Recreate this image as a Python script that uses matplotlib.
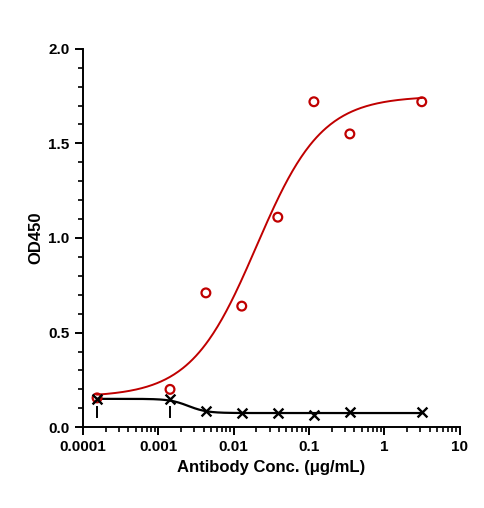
import numpy as np
import matplotlib
matplotlib.use("Agg")
import matplotlib.pyplot as plt

conc = [0.000154, 0.00143, 0.00428, 0.0128, 0.0385, 0.116, 0.348, 3.13]
od_sample = [0.155, 0.20, 0.71, 0.64, 1.11, 1.72, 1.55, 1.72]
od_ctrl = [0.15, 0.15, 0.085, 0.075, 0.075, 0.065, 0.08, 0.08]
ctrl_err = [0.05, 0.05, 0, 0, 0, 0, 0, 0]
# 4PL fit parameters (bottom, top, EC50, hill)
fit_sample = (0.16, 1.75, 0.020, 1.0)
fit_ctrl = (0.15, 0.075, 0.0025, 3.5)

def fourpl(x, b, t, ec, h):
    return b + (t - b) / (1 + (ec / x) ** h)

plt.rcParams['font.family'] = ['Liberation Sans', 'DejaVu Sans']
fig = plt.figure(figsize=(4.85, 5.08), dpi=100)
ax = fig.add_axes([0.171, 0.159, 0.777, 0.745])
xs = np.logspace(np.log10(conc[0]), np.log10(conc[-1]), 300)
ax.plot(xs, fourpl(xs, *fit_sample), color='#c00000', lw=1.4)
ax.plot(xs, fourpl(xs, *fit_ctrl), color='black', lw=1.6)
ax.scatter(conc, od_sample, s=40, facecolors='none', edgecolors='#c00000', linewidths=1.6, zorder=3)
ax.scatter(conc, od_ctrl, s=50, marker='x', color='black', linewidths=1.7, zorder=3)
for x, y, e in zip(conc, od_ctrl, ctrl_err):
    if e > 0:
        ax.plot([x, x], [y - e - 0.045, y - 0.045], color='black', lw=1.4)
ax.set_xscale('log')
ax.set_xlim(0.0001, 10)
ax.set_ylim(0, 2.0)
ax.set_xticks([0.0001, 0.001, 0.01, 0.1, 1, 10])
ax.set_xticklabels(['0.0001', '0.001', '0.01', '0.1', '1', '10'])
ax.set_yticks([0, 0.5, 1.0, 1.5, 2.0])
ax.set_yticklabels(['0.0', '0.5', '1.0', '1.5', '2.0'])
ax.yaxis.set_minor_locator(matplotlib.ticker.MultipleLocator(0.1))
for s in ['top', 'right']:
    ax.spines[s].set_visible(False)
for s in ['left', 'bottom']:
    ax.spines[s].set_linewidth(1.4)
ax.tick_params(which='major', direction='out', length=6, width=1.4, labelsize=11)
ax.tick_params(which='minor', direction='out', length=3.5, width=1.2)
for lab in ax.get_xticklabels() + ax.get_yticklabels():
    lab.set_fontweight('bold')
ax.set_xlabel('Antibody Conc. (μg/mL)', fontsize=12, fontweight='bold')
ax.set_ylabel('OD450', fontsize=12, fontweight='bold')
fig.savefig('out.png', dpi=100)
